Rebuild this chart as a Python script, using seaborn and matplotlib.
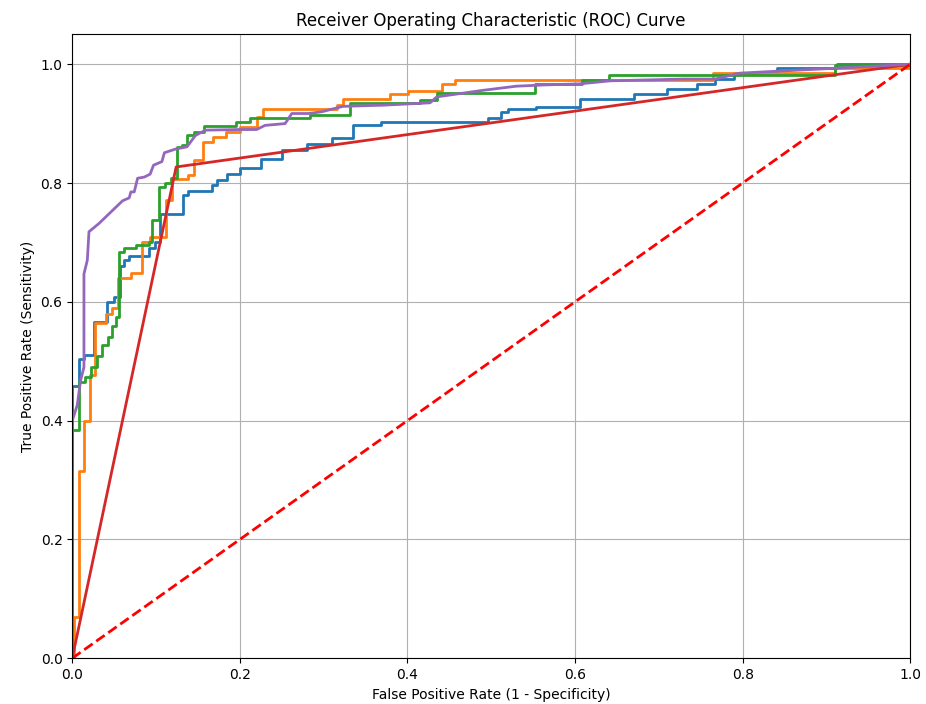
import numpy as np
import pandas as pd
import seaborn as sns
import matplotlib
matplotlib.use("Agg")
import matplotlib.pyplot as plt

# ROC points (fpr at start of each flat run, tpr)
fpr_1 = [0, 0, 0.008, 0.014, 0.026, 0.042, 0.05, 0.057, 0.062, 0.068, 0.092, 0.099,
         0.105, 0.113, 0.132, 0.138, 0.167, 0.173, 0.185, 0.20, 0.225, 0.25, 0.28,
         0.31, 0.335, 0.368, 0.496, 0.512, 0.52, 0.553, 0.606, 0.67, 0.71, 0.745,
         0.767, 0.79, 0.841, 0.912, 1.0]
tpr_1 = [0, 0.458, 0.503, 0.51, 0.566, 0.60, 0.608, 0.66, 0.67, 0.677, 0.69, 0.70,
         0.747, 0.747, 0.78, 0.787, 0.796, 0.805, 0.815, 0.825, 0.84, 0.855, 0.865,
         0.875, 0.897, 0.903, 0.91, 0.92, 0.925, 0.928, 0.942, 0.95, 0.958, 0.966,
         0.975, 0.985, 0.993, 1.0, 1.0]

fpr_2 = [0, 0.002, 0.008, 0.014, 0.021, 0.027, 0.04, 0.048, 0.055, 0.07, 0.083,
         0.093, 0.112, 0.119, 0.138, 0.145, 0.156, 0.168, 0.183, 0.20, 0.22, 0.228,
         0.316, 0.323, 0.379, 0.401, 0.441, 0.457, 0.765, 0.91, 1.0]
tpr_2 = [0, 0.07, 0.316, 0.40, 0.476, 0.564, 0.58, 0.59, 0.64, 0.648, 0.70,
         0.709, 0.772, 0.806, 0.813, 0.838, 0.869, 0.878, 0.886, 0.894, 0.911, 0.925,
         0.932, 0.942, 0.949, 0.955, 0.967, 0.974, 0.985, 0.993, 1.0]

fpr_3 = [0, 0, 0.008, 0.015, 0.022, 0.03, 0.036, 0.043, 0.047, 0.052, 0.056, 0.062,
         0.076, 0.092, 0.095, 0.103, 0.111, 0.118, 0.125, 0.131, 0.137, 0.145, 0.157,
         0.195, 0.212, 0.284, 0.332, 0.415, 0.435, 0.552, 0.608, 0.64, 0.91, 1.0]
tpr_3 = [0, 0.385, 0.465, 0.474, 0.49, 0.508, 0.527, 0.541, 0.56, 0.575, 0.684, 0.69,
         0.695, 0.70, 0.737, 0.793, 0.80, 0.808, 0.861, 0.864, 0.88, 0.886, 0.896,
         0.903, 0.91, 0.914, 0.934, 0.94, 0.952, 0.966, 0.973, 0.981, 0.998, 1.0]

fpr_4 = [0, 0.124, 1.0]
tpr_4 = [0, 0.827, 1.0]

fpr_5 = [0, 0.006, 0.01, 0.014, 0.014, 0.018, 0.02, 0.032, 0.06, 0.068, 0.07, 0.074,
         0.078, 0.086, 0.093, 0.097, 0.107, 0.11, 0.123, 0.137, 0.147, 0.159, 0.20,
         0.22, 0.23, 0.254, 0.262, 0.282, 0.298, 0.323, 0.346, 0.371, 0.427, 0.435,
         0.49, 0.53, 0.562, 0.606, 0.642, 0.729, 0.767, 0.797, 0.908, 1.0]
tpr_5 = [0.40, 0.426, 0.468, 0.49, 0.647, 0.67, 0.718, 0.732, 0.77, 0.775, 0.785, 0.785,
         0.808, 0.81, 0.815, 0.83, 0.836, 0.851, 0.857, 0.861, 0.88, 0.889, 0.89,
         0.89, 0.897, 0.90, 0.917, 0.917, 0.92, 0.929, 0.93, 0.931, 0.935, 0.945,
         0.956, 0.963, 0.965, 0.967, 0.972, 0.975, 0.975, 0.985, 0.993, 1.0]

chance = [0, 1]

fig, ax = plt.subplots(figsize=(9.26, 7.04), dpi=100)

colors = sns.color_palette("tab10")
step_curves = [(fpr_1, tpr_1), (fpr_2, tpr_2), (fpr_3, tpr_3)]
for i, (f, t) in enumerate(step_curves):
    sns.lineplot(x=f, y=t, ax=ax, color=colors[i], linewidth=2, sort=False,
                 estimator=None, drawstyle="steps-post")
sns.lineplot(x=fpr_4, y=tpr_4, ax=ax, color=colors[3], linewidth=2, sort=False, estimator=None)
sns.lineplot(x=fpr_5, y=tpr_5, ax=ax, color=colors[4], linewidth=2, sort=False, estimator=None)
sns.lineplot(x=chance, y=chance, ax=ax, color="red", linewidth=2, linestyle="--",
             sort=False, estimator=None)

ax.set_xlim(0, 1)
ax.set_ylim(0, 1.05)
ax.grid(True)
ax.set_xlabel("False Positive Rate (1 - Specificity)")
ax.set_ylabel("True Positive Rate (Sensitivity)")
ax.set_title("Receiver Operating Characteristic (ROC) Curve")

fig.subplots_adjust(left=0.078, right=0.983, top=0.951, bottom=0.065)
fig.savefig("out.png", dpi=100)
